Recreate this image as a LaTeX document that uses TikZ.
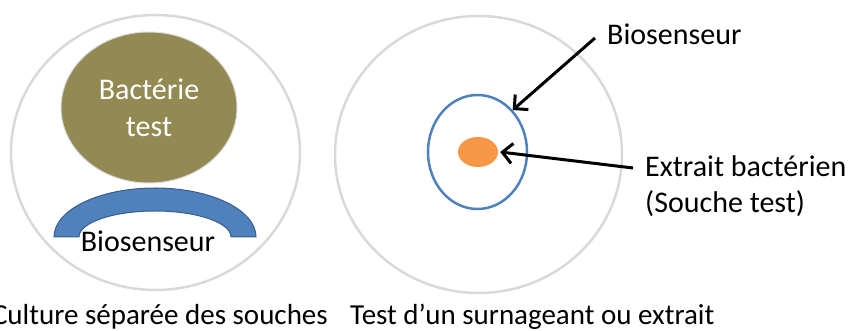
\documentclass[tikz,border=0pt]{standalone}
\usepackage{fontspec}
\setmainfont{Carlito}
\usetikzlibrary{arrows.meta,shapes.geometric}
\definecolor{dishgray}{HTML}{D9D9D9}
\definecolor{olivefill}{HTML}{938953}
\definecolor{bluefill}{HTML}{4F81BD}
\definecolor{bluedark}{HTML}{385D8A}
\definecolor{orangefill}{HTML}{F79646}
\begin{document}
\begin{tikzpicture}[x=1pt,y=1pt,
  dish/.style={draw=dishgray,line width=2.5pt,ellipse,inner sep=0pt},
  lbl/.style={font=\fontsize{30}{37}\selectfont,inner sep=0pt},
  captxt/.style={font=\fontsize{29}{36}\selectfont,inner sep=0pt},
  arr/.style={line width=3pt,-{Straight Barb[length=10pt,width=20pt]}}]
\useasboundingbox (0,0) rectangle (849,331);
% left dish
\node[dish,minimum width=289pt,minimum height=275pt] (dishL) at (155.5,178.5) {};
\node[ellipse,inner sep=0pt,fill=olivefill,draw=dishgray,line width=1pt,
      minimum width=176pt,minimum height=151pt] (bact) at (149,223.5) {};
\node[lbl,text=white,anchor=base] (bt1) at (149,231) {Bactérie};
\node[lbl,text=white,anchor=base] (bt2) at (149,194) {test};
\draw[fill=bluefill,draw=bluedark,line width=1pt]
  (54,94) arc[start angle=180,end angle=0,x radius=101,y radius=49]
  -- (231,94) arc[start angle=0,end angle=180,x radius=76,y radius=26] -- cycle;
\node[lbl,anchor=base] (bioL) at (148,79) {Biosenseur};
% right dish
\node[dish,minimum width=287pt,minimum height=277pt] (dishR) at (478.5,176.5) {};
\node[ellipse,inner sep=0pt,draw=bluefill,line width=2.5pt,
      minimum width=99pt,minimum height=114pt] (bios) at (477.5,179) {};
\node[ellipse,inner sep=0pt,fill=orangefill,
      minimum width=40pt,minimum height=30pt] (extr) at (478,179) {};
\node[lbl,anchor=base west] (bioR) at (607,286) {Biosenseur};
\node[lbl,anchor=base west] (ext1) at (645,154) {Extrait bactérien};
\node[lbl,anchor=base west] (ext2) at (645,118) {(Souche test)};
\coordinate (a1) at (595,293);
\coordinate (a2) at (633,163);
\draw[arr] (a1) -- (bios.50);
\draw[arr] (a2) -- ([xshift=2pt]extr.east);
% captions
\node[captxt,anchor=base east] (capL) at (328,6) {Culture séparée des souches};
\node[captxt,anchor=base west] (capR) at (350,6) {Test d’un surnageant ou extrait};
\end{tikzpicture}
\end{document}
